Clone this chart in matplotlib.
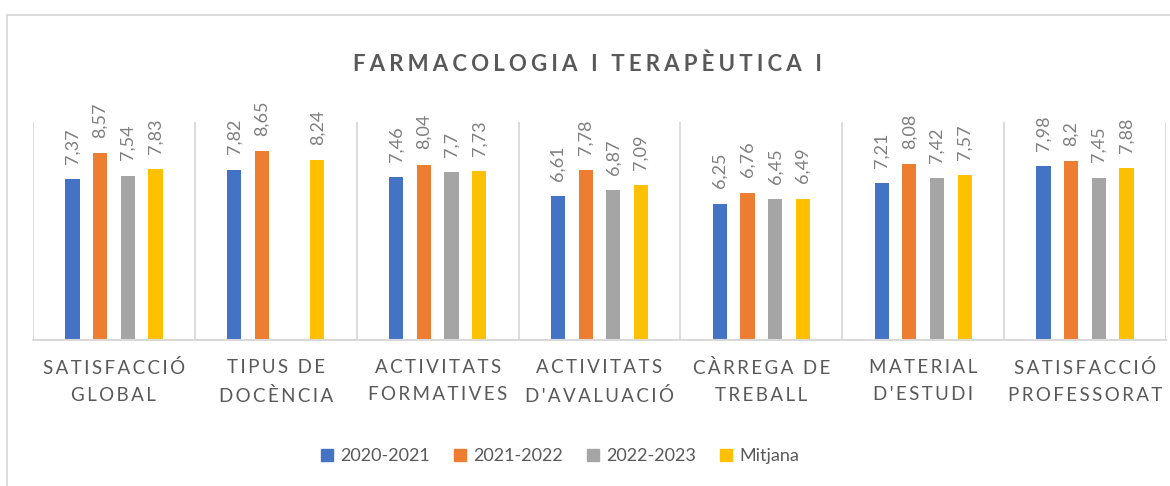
import matplotlib.pyplot as plt
from matplotlib.lines import Line2D
import numpy as np

categories = [
    "SATISFACCIÓ\nGLOBAL",
    "TIPUS DE\nDOCÈNCIA",
    "ACTIVITATS\nFORMATIVES",
    "ACTIVITATS\nD'AVALUACIÓ",
    "CÀRREGA DE\nTREBALL",
    "MATERIAL\nD'ESTUDI",
    "SATISFACCIÓ\nPROFESSORAT",
]
series_names = ["2020-2021", "2021-2022", "2022-2023", "Mitjana"]
v_2020_2021 = [7.37, 7.82, 7.46, 6.61, 6.25, 7.21, 7.98]
v_2021_2022 = [8.57, 8.65, 8.04, 7.78, 6.76, 8.08, 8.20]
v_2022_2023 = [7.54, None, 7.70, 6.87, 6.45, 7.42, 7.45]
v_mitjana = [7.83, 8.24, 7.73, 7.09, 6.49, 7.57, 7.88]
title = "FARMACOLOGIA I TERAPÈUTICA I"

colors = ["#4472C4", "#ED7D31", "#A5A5A5", "#FFC000"]
THIN = "\u2009"
FAM = ["Lato", "DejaVu Sans"]


def spaced(s, sep=THIN):
    # emulate the letter spacing of the original chart
    return "\n".join(sep.join(line) for line in s.split("\n"))


plt.rcParams["font.family"] = FAM

fig = plt.figure(figsize=(11.7, 4.86), dpi=100)
ax = fig.add_axes([33 / 1170, 1 - 340 / 486, (1166 - 33) / 1170, (340 - 122) / 486])

x = np.arange(len(categories))
width = 0.088
step = 0.171
all_series = [v_2020_2021, v_2021_2022, v_2022_2023, v_mitjana]

for i, (name, vals, c) in enumerate(zip(series_names, all_series, colors)):
    pos = x + (i - 1.5) * step
    for p, v in zip(pos, vals):
        if v is None:
            continue
        ax.bar(p, v, width=width, color=c, zorder=3)
        label = f"{v:g}".replace(".", ",")
        ax.annotate(label, (p, v), xytext=(0, 11), textcoords="offset points",
                    rotation=90, ha="center", va="bottom", fontsize=13,
                    color="#7F7F7F")

# category separators
for b in np.arange(-0.5, len(categories), 1.0):
    ax.axvline(b, ymin=0, ymax=1, color="#D9D9D9", lw=1.3, zorder=1)

ax.set_xlim(-0.5, len(categories) - 0.5)
ax.set_ylim(0, 10)
ax.set_yticks([])
ax.set_xticks(x)
ax.set_xticklabels([spaced(c) for c in categories], fontsize=13.5,
                   color="#595959", linespacing=1.7)
ax.tick_params(axis="x", length=0, pad=14)
for side in ["top", "right", "left"]:
    ax.spines[side].set_visible(False)
ax.spines["bottom"].set_color("#D9D9D9")
ax.spines["bottom"].set_linewidth(1.5)
ax.spines["bottom"].set_zorder(4)

fig.text(587 / 1170, 1 - 64 / 486, spaced(title, THIN + "\u200a"), ha="center",
         va="center", fontsize=16, fontweight="bold", color="#595959")

handles = [plt.Rectangle((0, 0), 1, 1, color=c) for c in colors]
fig.legend(handles, series_names, loc="center", ncol=4,
           bbox_to_anchor=(560 / 1170, 1 - 456 / 486), frameon=False,
           fontsize=13, handlelength=0.65, handleheight=0.65,
           handletextpad=0.4, columnspacing=1.35, labelcolor="#595959")

# outer chart border (left and top edges)
fig.add_artist(Line2D([7 / 1170, 7 / 1170], [0, 1 - 15 / 486], color="#D9D9D9",
                      lw=1.3, transform=fig.transFigure))
fig.add_artist(Line2D([7 / 1170, 1], [1 - 15 / 486, 1 - 15 / 486], color="#D9D9D9",
                      lw=1.3, transform=fig.transFigure))

fig.savefig("out.png", dpi=100, facecolor="white")
